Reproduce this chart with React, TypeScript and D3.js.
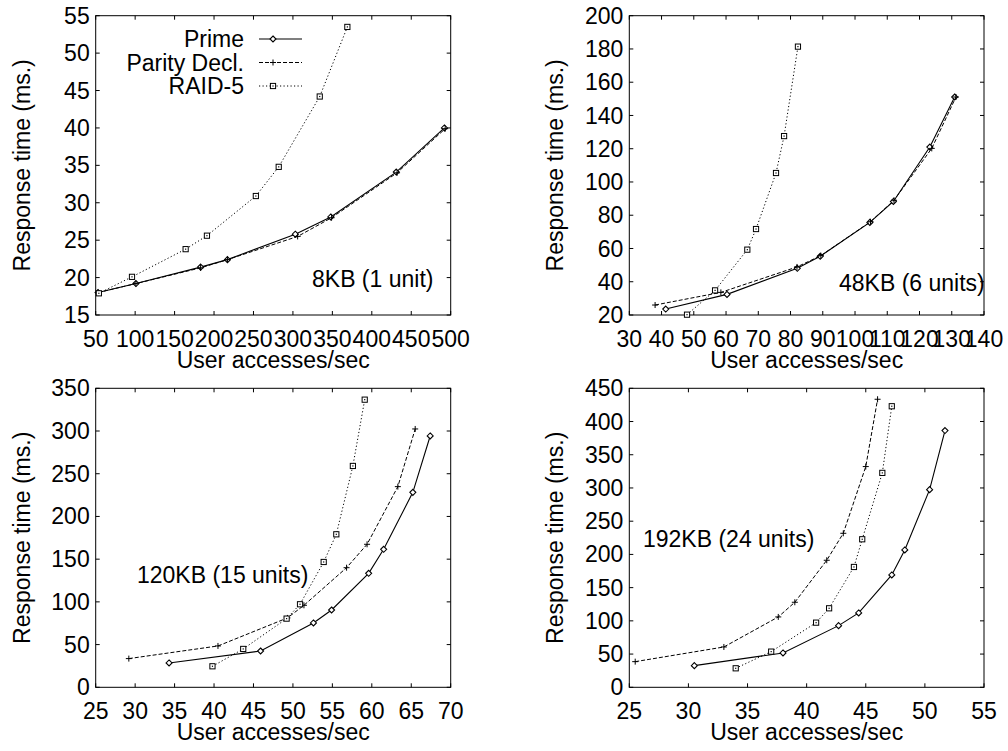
import * as d3 from "d3";

// ---- data ----
const seriesNames = ["Prime", "Parity Decl.", "RAID-5"];

// 8KB (1 unit)
const k8Prime: [number, number][] = [[53, 18.0], [101, 19.2], [183, 21.4], [217, 22.4], [303, 25.8], [348, 28.1], [431, 34.1], [492, 40.0]];
const k8Parity: [number, number][] = [[53, 18.0], [101, 19.2], [183, 21.3], [217, 22.4], [306, 25.5], [349, 28.0], [432, 34.0], [493, 39.9]];
const k8Raid: [number, number][] = [[54, 17.9], [96, 20.1], [164, 23.8], [191, 25.6], [253, 30.9], [282, 34.8], [334, 44.2], [369, 53.5]];

// 48KB (6 units)
const k48Prime: [number, number][] = [[41.3, 23.6], [60.3, 32.4], [82.1, 48.1], [89.2, 55.3], [104.6, 75.7], [111.9, 88.3], [123.2, 121], [130.9, 151.1]];
const k48Parity: [number, number][] = [[38, 26], [58.4, 33.6], [82, 48.9], [89.4, 55.7], [104.8, 76.1], [112.1, 89], [123.8, 120.2], [131.3, 151.1]];
const k48Raid: [number, number][] = [[47.9, 20.2], [56.6, 34.8], [66.6, 59.3], [69.3, 71.7], [75.5, 105.4], [78, 127.6], [82.3, 181.4]];

// 120KB (15 units)
const k120Prime: [number, number][] = [[34.3, 28.5], [45.9, 42.5], [52.6, 75.3], [54.9, 90.5], [59.6, 133.4], [61.5, 161.5], [65.2, 228.2], [67.4, 294.2]];
const k120Parity: [number, number][] = [[29.2, 33.6], [40.5, 48.4], [49.3, 81.2], [51.4, 96], [56.8, 140], [59.4, 167.4], [63.3, 234.9], [65.5, 302.4]];
const k120Raid: [number, number][] = [[39.8, 24.6], [43.7, 44.9], [49.2, 80.4], [50.9, 97.2], [53.9, 146.7], [55.5, 179.1], [57.6, 259.1], [59.1, 336.7]];

// 192KB (24 units)
const k192Prime: [number, number][] = [[30.5, 32.6], [38, 51.7], [42.7, 92.8], [44.4, 111.9], [47.2, 169.1], [48.3, 206.7], [50.4, 297.5], [51.7, 386.4]];
const k192Parity: [number, number][] = [[25.5, 38.6], [33, 60.7], [37.6, 105.9], [39, 128], [41.7, 191.2], [43.1, 231.8], [45, 332.2], [46, 433.5]];
const k192Raid: [number, number][] = [[34, 28.6], [37, 53.7], [40.8, 97.3], [41.9, 118.9], [44, 181.1], [44.7, 222.8], [46.4, 322.7], [47.2, 423]];

const xTicks8 = d3.range(50, 501, 50);
const yTicks8 = d3.range(15, 56, 5);
const xTicks48 = d3.range(30, 141, 10);
const yTicks48 = d3.range(20, 201, 20);
const xTicks120 = d3.range(25, 71, 5);
const yTicks120 = d3.range(0, 351, 50);
const xTicks192 = d3.range(25, 56, 5);
const yTicks192 = d3.range(0, 451, 50);

const FONT = "'Liberation Sans', Arial, Helvetica, sans-serif";
const FS = 23;
const styles = [
  { dash: undefined, width: 1.1 },
  { dash: "4,2", width: 1 },
  { dash: "1.2,2.3", width: 1 },
];

type Panel = {
  left: number; right: number; top: number; bottom: number;
  xDom: [number, number]; yDom: [number, number];
  xTicks: number[]; yTicks: number[];
  series: [number, number][][];
  note: string; noteX: number; noteY: number;
  legend?: boolean;
};

const Marker = ({ kind, x, y }: { kind: number; x: number; y: number }) => {
  if (kind === 0) {
    const s = 3;
    return <path d={`M${x},${y - s}L${x + s},${y}L${x},${y + s}L${x - s},${y}Z`} fill="#fff" stroke="#000" strokeWidth={1.1} />;
  }
  if (kind === 1) {
    const s = 3;
    return <path d={`M${x - s},${y}H${x + s}M${x},${y - s}V${y + s}`} stroke="#000" strokeWidth={1} />;
  }
  const s = 2.6;
  return (
    <g>
      <rect x={x - s} y={y - s} width={2 * s} height={2 * s} fill="#fff" stroke="#000" strokeWidth={1} />
      <rect x={x - 0.6} y={y - 0.6} width={1.2} height={1.2} fill="#000" />
    </g>
  );
};

const PanelView = ({ p }: { p: Panel }) => {
  const x = d3.scaleLinear().domain(p.xDom).range([p.left, p.right]);
  const y = d3.scaleLinear().domain(p.yDom).range([p.bottom, p.top]);
  const line = d3.line<[number, number]>().x((d) => x(d[0])).y((d) => y(d[1]));
  const tl = 4;
  const cx = (p.left + p.right) / 2;
  const cy = (p.top + p.bottom) / 2;
  return (
    <g fontFamily={FONT} fontSize={FS} fill="#000">
      {p.xTicks.map((t) => (
        <g key={"x" + t}>
          <line x1={x(t)} x2={x(t)} y1={p.bottom} y2={p.bottom - tl} stroke="#000" />
          <line x1={x(t)} x2={x(t)} y1={p.top} y2={p.top + tl} stroke="#000" />
          <text x={x(t)} y={p.bottom + 32} textAnchor="middle">{t}</text>
        </g>
      ))}
      {p.yTicks.map((t) => (
        <g key={"y" + t}>
          <line x1={p.left} x2={p.left + tl} y1={y(t)} y2={y(t)} stroke="#000" />
          <line x1={p.right} x2={p.right - tl} y1={y(t)} y2={y(t)} stroke="#000" />
          <text x={p.left - 6} y={y(t)} dy="0.35em" textAnchor="end">{t}</text>
        </g>
      ))}
      <rect x={p.left} y={p.top} width={p.right - p.left} height={p.bottom - p.top} fill="none" stroke="#000" strokeWidth={1} />
      <text x={cx} y={p.bottom + 53} textAnchor="middle">User accesses/sec</text>
      <text transform={`translate(${p.left - 66},${cy}) rotate(-90)`} textAnchor="middle">Response time (ms.)</text>
      <text x={p.noteX} y={p.noteY}>{p.note}</text>
      {p.series.map((s, i) => (
        <g key={"s" + i}>
          <path d={line(s) || ""} fill="none" stroke="#000" strokeWidth={styles[i].width} strokeDasharray={styles[i].dash} />
          {s.map((d, j) => <Marker key={j} kind={i} x={x(d[0])} y={y(d[1])} />)}
        </g>
      ))}
      {p.legend &&
        seriesNames.map((n, i) => {
          const ly = 39 + i * 23.5;
          return (
            <g key={"l" + i}>
              <text x={244} y={ly} dy="0.35em" textAnchor="end">{n}</text>
              <line x1={259} x2={302} y1={ly} y2={ly} stroke="#000" strokeWidth={styles[i].width} strokeDasharray={styles[i].dash} />
              <Marker kind={i} x={273} y={ly} />
            </g>
          );
        })}
    </g>
  );
};

const panels: Panel[] = [
  { left: 95.7, right: 450.7, top: 15.7, bottom: 315, xDom: [50, 500], yDom: [15, 55], xTicks: xTicks8, yTicks: yTicks8,
    series: [k8Prime, k8Parity, k8Raid], note: "8KB (1 unit)", noteX: 312, noteY: 287, legend: true },
  { left: 629.3, right: 984, top: 15.7, bottom: 315, xDom: [30, 140], yDom: [20, 200], xTicks: xTicks48, yTicks: yTicks48,
    series: [k48Prime, k48Parity, k48Raid], note: "48KB (6 units)", noteX: 839, noteY: 291 },
  { left: 95.7, right: 450.7, top: 388.3, bottom: 687.3, xDom: [25, 70], yDom: [0, 350], xTicks: xTicks120, yTicks: yTicks120,
    series: [k120Prime, k120Parity, k120Raid], note: "120KB (15 units)", noteX: 137, noteY: 583 },
  { left: 629.3, right: 984, top: 388.3, bottom: 687.3, xDom: [25, 55], yDom: [0, 450], xTicks: xTicks192, yTicks: yTicks192,
    series: [k192Prime, k192Parity, k192Raid], note: "192KB (24 units)", noteX: 643, noteY: 547 },
];

export default function App() {
  return (
    <svg width={1008} height={751} style={{ position: "absolute", left: 0, top: 0, background: "#fff" }}>
      <rect width={1008} height={751} fill="#fff" />
      {panels.map((p, i) => <PanelView key={i} p={p} />)}
    </svg>
  );
}
